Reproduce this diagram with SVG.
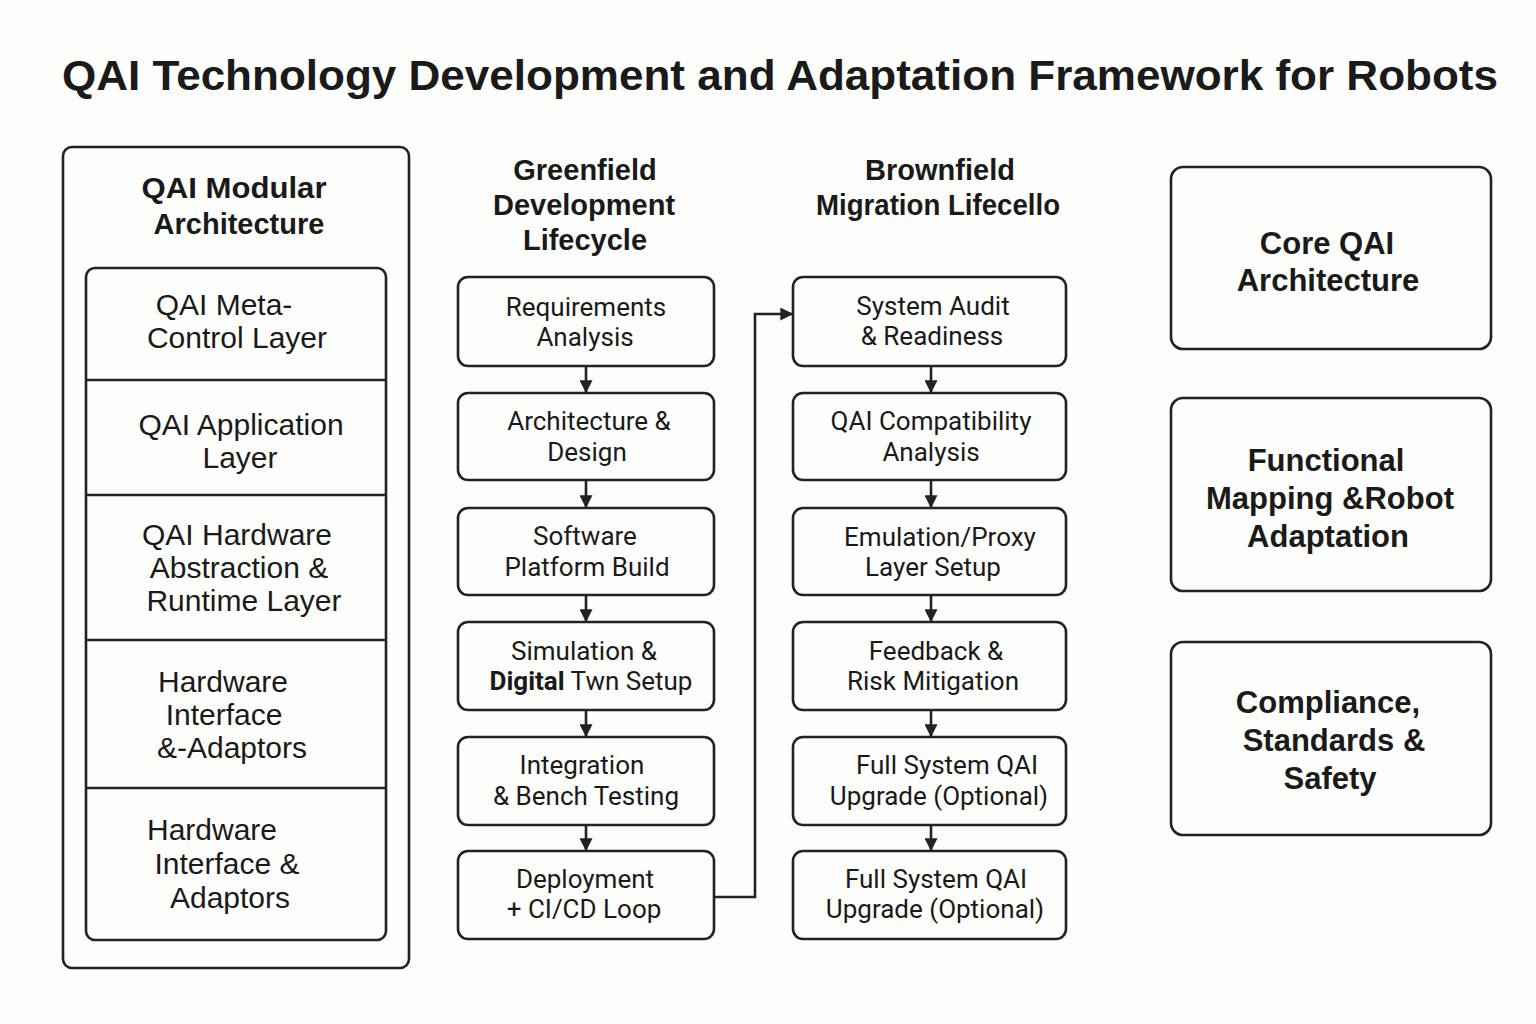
<svg xmlns="http://www.w3.org/2000/svg" width="1536" height="1024" viewBox="0 0 1536 1024">
<defs>
<marker id="ah" viewBox="0 0 10 10" refX="9" refY="5" markerWidth="5" markerHeight="5" markerUnits="strokeWidth" orient="auto">
<path d="M0,0 L10,5 L0,10 Z" fill="#222"/>
</marker>
<style>
.bg{fill:#fdfdfc}
.box{fill:#fdfdfc;stroke:#222;stroke-width:2.6}
.div{stroke:#222;stroke-width:2.6}
.title{font-family:"Liberation Sans",Arial,sans-serif;font-weight:bold;font-size:42px;fill:#1a1a1a}
.hdr{font-family:"Liberation Sans",Arial,sans-serif;font-weight:bold;font-size:29px;fill:#1a1a1a;text-anchor:middle}
.lay{font-family:"Liberation Sans",Arial,sans-serif;font-size:30px;fill:#1a1a1a;text-anchor:middle}
.step{font-family:Roboto,"Liberation Sans",sans-serif;font-size:26px;fill:#1a1a1a;text-anchor:middle}
.rb{font-family:"Liberation Sans",Arial,sans-serif;font-weight:bold;font-size:31px;fill:#1a1a1a;text-anchor:middle}
.con{fill:none;stroke:#222;stroke-width:2.6}
</style>
</defs>
<rect class="bg" x="0" y="0" width="1536" height="1024"/>
<text class="title" x="62" y="90" textLength="1436" lengthAdjust="spacingAndGlyphs">QAI Technology Development and Adaptation Framework for Robots</text>

<g id="modular-architecture">
<rect class="box" x="63" y="147" width="346" height="821" rx="9"/>
<text class="hdr" x="234" y="198" font-size="31" textLength="185" lengthAdjust="spacingAndGlyphs">QAI Modular</text>
<text class="hdr" x="239" y="234" font-size="31">Architecture</text>
<rect class="box" x="86" y="268" width="300" height="672" rx="9"/>
<line class="div" x1="86" y1="380" x2="386" y2="380"/>
<line class="div" x1="86" y1="495" x2="386" y2="495"/>
<line class="div" x1="86" y1="640" x2="386" y2="640"/>
<line class="div" x1="86" y1="788" x2="386" y2="788"/>
</g>
<g id="layer-meta-control">
<text class="lay" x="224" y="315">QAI Meta-</text>
<text class="lay" x="237" y="348">Control Layer</text>
</g>
<g id="layer-application">
<text class="lay" x="241" y="435">QAI Application</text>
<text class="lay" x="240" y="468">Layer</text>
</g>
<g id="layer-hal-runtime">
<text class="lay" x="237" y="545">QAI Hardware</text>
<text class="lay" x="239" y="578">Abstraction &amp;</text>
<text class="lay" x="244" y="611">Runtime Layer</text>
</g>
<g id="layer-hw-interface-1">
<text class="lay" x="223" y="692">Hardware</text>
<text class="lay" x="224" y="725">Interface</text>
<text class="lay" x="232" y="758">&amp;-Adaptors</text>
</g>
<g id="layer-hw-interface-2">
<text class="lay" x="212" y="840">Hardware</text>
<text class="lay" x="227" y="874">Interface &amp;</text>
<text class="lay" x="230" y="908">Adaptors</text>
</g>

<g id="greenfield-header">
<text class="hdr" x="585" y="180">Greenfield</text>
<text class="hdr" x="584" y="215">Development</text>
<text class="hdr" x="585" y="250">Lifecycle</text>
</g>
<g id="brownfield-header">
<text class="hdr" x="940" y="180">Brownfield</text>
<text class="hdr" x="938" y="215" textLength="244" lengthAdjust="spacingAndGlyphs">Migration Lifecello</text>
</g>

<g id="g1"><rect class="box" x="458" y="277" width="256" height="89" rx="10"/>
<text class="step" x="586" y="316">Requirements</text><text class="step" x="585" y="346">Analysis</text></g>
<g id="g2"><rect class="box" x="458" y="393" width="256" height="87" rx="10"/>
<text class="step" x="589" y="430">Architecture &amp;</text><text class="step" x="587" y="461">Design</text></g>
<g id="g3"><rect class="box" x="458" y="508" width="256" height="87" rx="10"/>
<text class="step" x="585" y="545">Software</text><text class="step" x="587" y="576">Platform Build</text></g>
<g id="g4"><rect class="box" x="458" y="622" width="256" height="88" rx="10"/>
<text class="step" x="584" y="660">Simulation &amp;</text><text class="step" x="591" y="690"><tspan font-weight="bold">Digital</tspan> Twn Setup</text></g>
<g id="g5"><rect class="box" x="458" y="737" width="256" height="88" rx="10"/>
<text class="step" x="582" y="774">Integration</text><text class="step" x="586" y="805">&amp; Bench Testing</text></g>
<g id="g6"><rect class="box" x="458" y="851" width="256" height="88" rx="10"/>
<text class="step" x="585" y="888">Deployment</text><text class="step" x="584" y="918">+ CI/CD Loop</text></g>

<g id="b1"><rect class="box" x="793" y="277" width="273" height="89" rx="10"/>
<text class="step" x="933" y="315">System Audit</text><text class="step" x="932" y="345">&amp; Readiness</text></g>
<g id="b2"><rect class="box" x="793" y="393" width="273" height="87" rx="10"/>
<text class="step" x="931" y="430">QAI Compatibility</text><text class="step" x="931" y="461">Analysis</text></g>
<g id="b3"><rect class="box" x="793" y="508" width="273" height="87" rx="10"/>
<text class="step" x="940" y="546">Emulation/Proxy</text><text class="step" x="933" y="576">Layer Setup</text></g>
<g id="b4"><rect class="box" x="793" y="622" width="273" height="88" rx="10"/>
<text class="step" x="936" y="660">Feedback &amp;</text><text class="step" x="933" y="690">Risk Mitigation</text></g>
<g id="b5"><rect class="box" x="793" y="737" width="273" height="88" rx="10"/>
<text class="step" x="947" y="774">Full System QAI</text><text class="step" x="939" y="805">Upgrade (Optional)</text></g>
<g id="b6"><rect class="box" x="793" y="851" width="273" height="88" rx="10"/>
<text class="step" x="936" y="888">Full System QAI</text><text class="step" x="935" y="918">Upgrade (Optional)</text></g>

<g id="core-qai-architecture"><rect class="box" x="1171" y="167" width="320" height="182" rx="12"/>
<text class="rb" x="1327" y="254">Core QAI</text><text class="rb" x="1328" y="291">Architecture</text></g>
<g id="functional-mapping"><rect class="box" x="1171" y="398" width="320" height="193" rx="12"/>
<text class="rb" x="1326" y="471">Functional</text><text class="rb" x="1330" y="509">Mapping &amp;Robot</text><text class="rb" x="1328" y="547">Adaptation</text></g>
<g id="compliance"><rect class="box" x="1171" y="642" width="320" height="193" rx="12"/>
<text class="rb" x="1328" y="713">Compliance,</text><text class="rb" x="1334" y="751">Standards &amp;</text><text class="rb" x="1330" y="789">Safety</text></g>

<g id="connectors">
<line class="con" x1="586" y1="366" x2="586" y2="392" marker-end="url(#ah)"/>
<line class="con" x1="586" y1="480" x2="586" y2="507" marker-end="url(#ah)"/>
<line class="con" x1="586" y1="595" x2="586" y2="621" marker-end="url(#ah)"/>
<line class="con" x1="586" y1="710" x2="586" y2="736" marker-end="url(#ah)"/>
<line class="con" x1="586" y1="825" x2="586" y2="850" marker-end="url(#ah)"/>
<line class="con" x1="931" y1="366" x2="931" y2="392" marker-end="url(#ah)"/>
<line class="con" x1="931" y1="480" x2="931" y2="507" marker-end="url(#ah)"/>
<line class="con" x1="931" y1="595" x2="931" y2="621" marker-end="url(#ah)"/>
<line class="con" x1="931" y1="710" x2="931" y2="736" marker-end="url(#ah)"/>
<line class="con" x1="931" y1="825" x2="931" y2="850" marker-end="url(#ah)"/>
<path class="con" d="M714,897 H755 V314 H792" marker-end="url(#ah)"/>
</g>
</svg>
